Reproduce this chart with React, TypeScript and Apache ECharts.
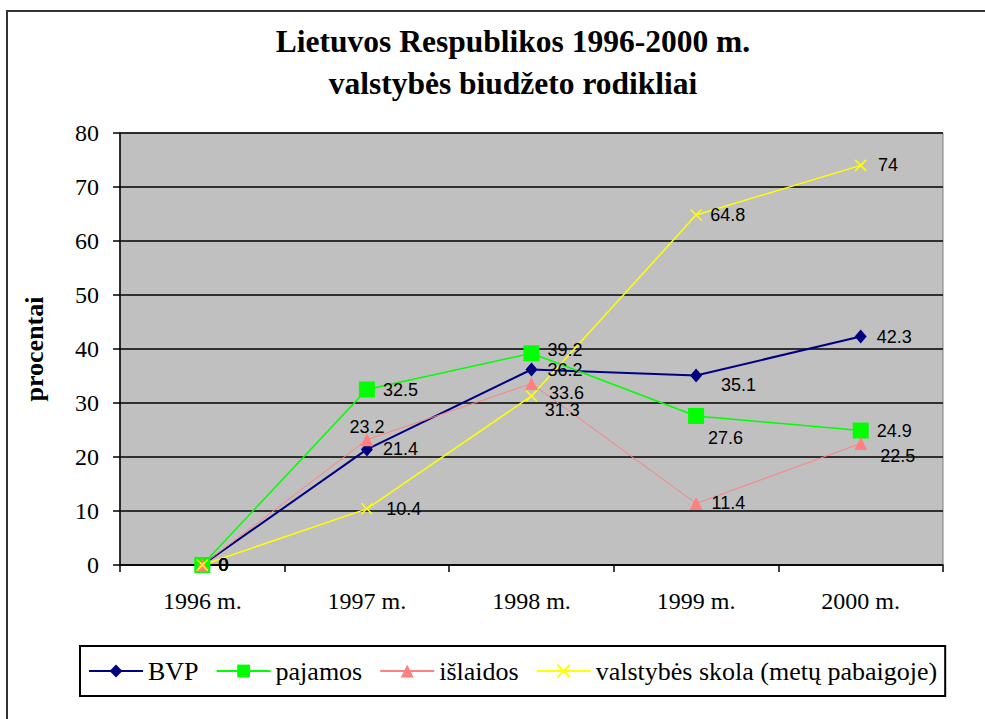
import React, { useEffect, useRef } from "react";
import * as echarts from "echarts";

const categories = ["1996 m.", "1997 m.", "1998 m.", "1999 m.", "2000 m."];
const seriesNames = ["BVP", "pajamos", "išlaidos", "valstybės skola (metų pabaigoje)"];
const bvp = [0, 21.4, 36.2, 35.1, 42.3];
const pajamos = [0, 32.5, 39.2, 27.6, 24.9];
const islaidos = [0, 23.2, 33.6, 11.4, 22.5];
const skola = [0, 10.4, 31.3, 64.8, 74];
const yMin = 0;
const yMax = 80;
const yStep = 10;
const titleLines = ["Lietuvos Respublikos 1996-2000 m.", "valstybės biudžeto rodikliai"];

// label nudges [dx, dy] per point (style only)
const bvpShift = [[0, 0], [0, 0], [0, 0], [9, 10], [0, 0]];
const pajamosShift = [[0, 0], [0, 0], [0, -3], [-4, 22], [0, 0]];
const islaidosShift = [[0, 0], null, [1, 9], [-1, 0], [3, 12]];
const skolaShift = [[0, 0], [3, 0], [-3, 14], [-2, 0], [1, 0]];

const SERIF = "Liberation Serif";
const SANS = "Liberation Sans";

function buildData(values: number[], shifts: (number[] | null)[]) {
  return values.map((v, i) => {
    const s = shifts[i];
    if (s === null) {
      return { value: v, label: { position: "inside", offset: [0, -13] } };
    }
    return { value: v, label: { offset: s } };
  });
}

export default function App() {
  const ref = useRef<HTMLDivElement>(null);
  useEffect(() => {
    if (!ref.current) return;
    const chart = echarts.init(ref.current, null, { renderer: "svg" });
    const labelBase = {
      show: true,
      position: "right",
      color: "#000",
      fontFamily: SANS,
      fontSize: 18,
    };
    chart.setOption({
      animation: false,
      backgroundColor: "#fff",
      graphic: [
        {
          type: "rect",
          shape: { x: 7, y: 11, width: 1000, height: 720 },
          style: { fill: "none", stroke: "#333", lineWidth: 2 },
          silent: true,
        },
        ...titleLines.map((t, i) => ({
          type: "text",
          x: 513,
          y: 41 + i * 42,
          style: {
            text: t,
            fontFamily: SERIF,
            fontWeight: "bold",
            fontSize: 31.5,
            fill: "#000",
            align: "center",
            verticalAlign: "middle",
          },
        })),
      ],
      grid: {
        left: 120,
        right: 42,
        top: 133,
        bottom: 154,
        show: true,
        backgroundColor: "#c0c0c0",
        borderColor: "#808080",
        borderWidth: 1,
        outerBoundsMode: "none",
      },
      legend: {
        left: 80,
        top: 646,
        padding: [12, 8, 12, 8],
        borderColor: "#000",
        borderWidth: 2,
        itemGap: 17,
        itemWidth: 54,
        itemHeight: 16,
        textStyle: { fontFamily: SERIF, fontSize: 26, color: "#000" },
        data: seriesNames,
      },
      xAxis: {
        type: "category",
        data: categories,
        boundaryGap: true,
        axisLine: { lineStyle: { color: "#000", width: 1.5 } },
        axisTick: { show: true, length: 7, lineStyle: { color: "#000", width: 1.5 } },
        axisLabel: { color: "#000", fontFamily: SERIF, fontSize: 24, margin: 24 },
        splitLine: { show: false },
      },
      yAxis: {
        type: "value",
        min: yMin,
        max: yMax,
        interval: yStep,
        name: "procentai",
        nameLocation: "middle",
        nameGap: 73,
        nameRotate: 90,
        nameTextStyle: { fontFamily: SERIF, fontWeight: "bold", fontSize: 26, color: "#000" },
        axisLine: { show: true, lineStyle: { color: "#000", width: 1.5 } },
        axisTick: { show: true, length: 7, lineStyle: { color: "#000", width: 1.5 } },
        axisLabel: { color: "#000", fontFamily: SERIF, fontSize: 24, margin: 21 },
        splitLine: { show: true, lineStyle: { color: "#000", width: 1.5 } },
      },
      series: [
        {
          name: seriesNames[0],
          type: "line",
          data: buildData(bvp, bvpShift),
          symbol: "diamond",
          symbolSize: [12, 14],
          color: "#000080",
          lineStyle: { color: "#000080", width: 2 },
          itemStyle: { color: "#000080" },
          label: { ...labelBase, distance: 10 },
        },
        {
          name: seriesNames[1],
          type: "line",
          data: buildData(pajamos, pajamosShift),
          symbol: "rect",
          symbolSize: 16,
          color: "#00ff00",
          lineStyle: { color: "#00ff00", width: 1.5 },
          itemStyle: { color: "#00ff00" },
          label: { ...labelBase, distance: 8 },
        },
        {
          name: seriesNames[2],
          type: "line",
          data: buildData(islaidos, islaidosShift),
          symbol: "triangle",
          symbolSize: 13,
          color: "#ff8080",
          lineStyle: { color: "#ff8080", width: 1 },
          itemStyle: { color: "#ff8080" },
          label: { ...labelBase, distance: 10 },
        },
        {
          name: seriesNames[3],
          type: "line",
          data: buildData(skola, skolaShift),
          symbol: "path://M0,0L10,10M10,0L0,10",
          symbolSize: 11,
          color: "#ffff00",
          lineStyle: { color: "#ffff00", width: 1.5 },
          itemStyle: { color: "#ffff00", borderColor: "#ffff00", borderWidth: 1.5 },
          label: { ...labelBase, distance: 10 },
        },
      ],
    });
    return () => chart.dispose();
  }, []);
  return (
    <div
      ref={ref}
      style={{ position: "absolute", left: 0, top: 0, width: 985, height: 719 }}
    />
  );
}
